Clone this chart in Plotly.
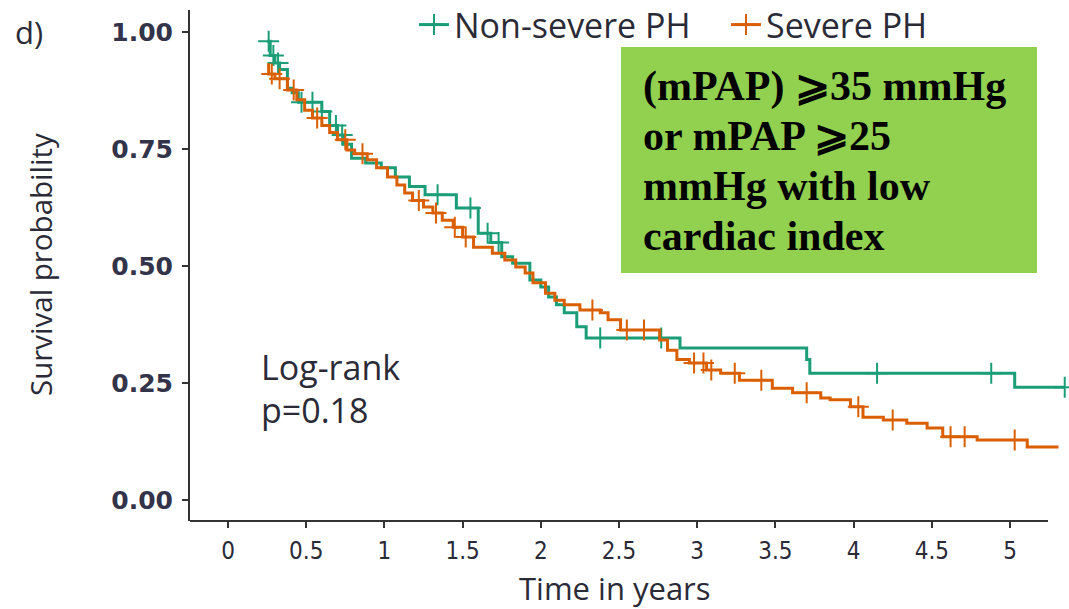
import numpy as np
import plotly.graph_objects as go

# ---- data ----
green_t = [0.25, 0.27, 0.30, 0.33, 0.38, 0.41, 0.45, 0.60, 0.65, 0.70, 0.74, 0.79, 0.88, 0.98,
           1.07, 1.16, 1.26, 1.46, 1.60, 1.68, 1.75, 1.82, 1.93, 2.00, 2.05, 2.10, 2.15, 2.23,
           2.29, 2.89, 3.70, 3.72, 5.03, 5.35]
green_s = [0.98, 0.95, 0.934, 0.92, 0.88, 0.87, 0.85, 0.83, 0.80, 0.78, 0.76, 0.73, 0.72, 0.71,
           0.69, 0.67, 0.652, 0.624, 0.57, 0.55, 0.52, 0.506, 0.47, 0.455, 0.434, 0.417, 0.40, 0.37,
           0.346, 0.325, 0.30, 0.271, 0.241, 0.241]
green_cens = [0.26, 0.29, 0.32, 0.47, 0.54, 0.60, 0.69, 0.73, 1.34, 1.55, 1.66, 1.73, 2.38, 2.77,
              4.15, 4.88, 5.35]

orange_t = [0.25, 0.26, 0.30, 0.38, 0.44, 0.49, 0.54, 0.60, 0.65, 0.70, 0.76, 0.81, 0.89, 0.95,
            1.02, 1.08, 1.13, 1.18, 1.25, 1.31, 1.37, 1.44, 1.50, 1.57, 1.69, 1.77, 1.84, 1.90,
            1.95, 2.03, 2.09, 2.15, 2.25, 2.38, 2.43, 2.51, 2.76, 2.81, 2.87, 2.95, 3.06, 3.15,
            3.27, 3.48, 3.61, 3.79, 3.85, 3.98, 4.06, 4.19, 4.34, 4.47, 4.57, 4.79, 5.11, 5.31]
orange_s = [0.93, 0.91, 0.90, 0.876, 0.855, 0.833, 0.816, 0.80, 0.785, 0.77, 0.748, 0.74, 0.727, 0.71,
            0.69, 0.673, 0.656, 0.64, 0.626, 0.613, 0.598, 0.583, 0.562, 0.54, 0.527, 0.513, 0.498, 0.485,
            0.464, 0.442, 0.427, 0.417, 0.406, 0.40, 0.385, 0.363, 0.342, 0.32, 0.30, 0.293, 0.278, 0.271,
            0.256, 0.239, 0.229, 0.218, 0.214, 0.199, 0.177, 0.171, 0.164, 0.154, 0.135, 0.128, 0.113, 0.113]
orange_cens = [0.28, 0.33, 0.42, 0.57, 0.75, 0.86, 1.22, 1.33, 1.45, 1.52, 2.33, 2.55, 2.66, 2.98,
               3.04, 3.09, 3.24, 3.41, 3.70, 4.03, 4.25, 4.62, 4.71, 5.03]

groups = ["Non-severe PH", "Severe PH"]
colors = ["#1B9E77", "#D95F02"]
x_ticks = [0, 0.5, 1, 1.5, 2, 2.5, 3, 3.5, 4, 4.5, 5]
x_tick_text = ["0", "0.5", "1", "1.5", "2", "2.5", "3", "3.5", "4", "4.5", "5"]
y_ticks = [0, 0.25, 0.5, 0.75, 1.0]
y_tick_text = ["0.00", "0.25", "0.50", "0.75", "1.00"]
box_lines = ["(mPAP) \u2A7E35 mmHg", "or mPAP \u2A7E25", "mmHg with low", "cardiac index"]


def step_at(ts, ss, q):
    ts = np.asarray(ts)
    idx = np.searchsorted(ts, q, side="right") - 1
    idx = np.clip(idx, 0, len(ss) - 1)
    return [ss[i] for i in idx]


TXT = "#2b2b38"
SANS = "Open Sans, DejaVu Sans, sans-serif"

fig = go.Figure()
series = [(green_t, green_s, green_cens), (orange_t, orange_s, orange_cens)]
for (ts, ss, cs), name, col in zip(series, groups, colors):
    fig.add_trace(go.Scatter(x=ts, y=ss, mode="lines", line=dict(color=col, width=3, shape="hv"),
                             showlegend=False, legendgroup=name, hoverinfo="skip"))
    fig.add_trace(go.Scatter(x=cs, y=step_at(ts, ss, cs), mode="markers",
                             marker=dict(symbol="cross-thin", size=15, line=dict(color=col, width=2)),
                             showlegend=False, legendgroup=name))
    fig.add_trace(go.Scatter(x=[None], y=[None], mode="lines+markers", name=name, legendgroup=name,
                             line=dict(color=col, width=3),
                             marker=dict(symbol="cross-thin", size=15, line=dict(color=col, width=2))))

W, H = 1069, 609
L, R, T, B = 190, 0, 10, 88
pw, ph = W - L - R, H - T - B
px_per_x = 156.4
x0 = -(228 - L) / px_per_x
x1 = x0 + pw / px_per_x
px_per_y = 468.0
y0 = -(521 - 500) / px_per_y
y1 = y0 + ph / px_per_y

def xp(px):
    return (px - L) / pw

def yp(py):
    return (H - B - py) / ph

fig.update_layout(
    width=W, height=H,
    margin=dict(l=L, r=R, t=T, b=B, pad=0, autoexpand=False),
    plot_bgcolor="white", paper_bgcolor="white",
    font=dict(family=SANS, color=TXT),
    legend=dict(orientation="h", x=xp(414), xanchor="left", y=1 - 25 / H, yanchor="middle",
                yref="container", font=dict(size=34, family=SANS, color=TXT),
                bgcolor="rgba(0,0,0,0)", itemwidth=30, traceorder="normal",
                entrywidth=267, entrywidthmode="pixels"),
    xaxis=dict(range=[x0, x1], tickmode="array", tickvals=x_ticks, ticktext=x_tick_text,
               ticks="outside", ticklen=6, tickwidth=2, tickcolor="#333", showgrid=False,
               zeroline=False, showline=False, ticklabelstandoff=2,
               tickfont=dict(family="Liberation Sans Narrow, DejaVu Sans Condensed, Liberation Sans",
                             size=24, color=TXT)),
    yaxis=dict(range=[y0, y1], tickmode="array", tickvals=y_ticks, ticktext=y_tick_text,
               ticks="outside", ticklen=6, tickwidth=2, tickcolor="#333", showgrid=False,
               zeroline=False, showline=True, linecolor="#333", linewidth=2, ticklabelstandoff=4,
               tickfont=dict(family="DejaVu Sans", size=25, color="#33334a", weight="bold")),
)

# x-axis line (stops short of the right edge, as in the reference)
fig.add_shape(type="line", xref="x", yref="paper", x0=x0, x1=(1048 - 228) / px_per_x, y0=0, y1=0,
              line=dict(color="#333", width=2))

# green condition box
fig.add_shape(type="rect", xref="paper", yref="paper", x0=xp(621), x1=xp(1037), y0=yp(273), y1=yp(47),
              fillcolor="#92D050", line=dict(width=0), layer="above")
for i, line in enumerate(box_lines):
    fig.add_annotation(text=line, xref="paper", yref="paper", x=xp(641), y=yp(86 + 50 * i),
                       xanchor="left", yanchor="middle", showarrow=False,
                       font=dict(family="Liberation Serif, Times New Roman, serif", size=42,
                                 color="black", weight="bold"))

# texts
fig.add_annotation(text="Time in years", xref="paper", yref="paper", x=xp(615), y=yp(588),
                   xanchor="center", yanchor="middle", showarrow=False, font=dict(size=31))
fig.add_annotation(text="Survival probability", xref="paper", yref="paper", x=xp(40), y=yp(265),
                   xanchor="center", yanchor="middle", textangle=-90, showarrow=False,
                   font=dict(size=29.5))
fig.add_annotation(text="d)", xref="paper", yref="paper", x=xp(13), y=yp(32),
                   xanchor="left", yanchor="middle", showarrow=False, font=dict(size=31))
fig.add_annotation(text="Log-rank", xref="x", yref="y", x=(259 - 228) / px_per_x, y=(500 - 367) / px_per_y,
                   xanchor="left", yanchor="middle", showarrow=False, font=dict(size=34))
fig.add_annotation(text="p=0.18", xref="x", yref="y", x=(259 - 228) / px_per_x, y=(500 - 410) / px_per_y,
                   xanchor="left", yanchor="middle", showarrow=False, font=dict(size=34))

fig.write_html("out.html")
